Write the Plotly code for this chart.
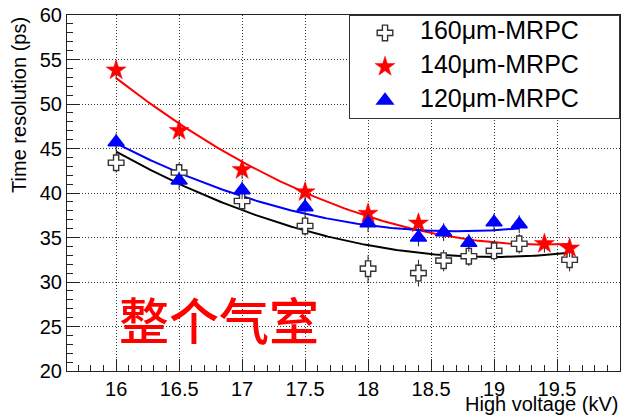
import numpy as np
import plotly.graph_objects as go

# High voltage (kV) and time resolution (ps) for the three MRPC gap sizes
hv_160 = [16.0, 16.5, 17.0, 17.5, 18.0, 18.4, 18.6, 18.8, 19.0, 19.2, 19.6]
res_160 = [43.4, 42.3, 39.1, 36.3, 31.5, 31.0, 32.4, 32.9, 33.5, 34.3, 32.5]
err_160 = [1.1, 1.1, 1.1, 1.1, 1.5, 1.5, 1.2, 1.1, 1.1, 1.1, 1.3]

hv_140 = [16.0, 16.5, 17.0, 17.5, 18.0, 18.4, 19.4, 19.6]
res_140 = [53.8, 47.0, 42.6, 40.1, 37.7, 36.6, 34.3, 33.8]
err_140 = [1.0, 1.0, 1.0, 1.0, 1.0, 1.0, 1.0, 1.0]

hv_120 = [16.0, 16.5, 17.0, 17.5, 18.0, 18.4, 18.6, 18.8, 19.0, 19.2]
res_120 = [45.7, 41.4, 40.3, 38.4, 36.6, 35.0, 35.6, 34.4, 36.7, 36.5]
err_120 = [1.0, 1.0, 1.0, 1.0, 1.0, 1.0, 1.0, 1.0, 1.0, 1.0]

series = [
    dict(name="160\u03bcm-MRPC", x=hv_160, y=res_160, e=err_160, color="black",
         marker=dict(symbol="cross", size=13, color="white",
                     line=dict(color="#333333", width=1.4))),
    dict(name="140\u03bcm-MRPC", x=hv_140, y=res_140, e=err_140, color="red",
         marker=dict(symbol="star", size=15, color="red",
                     line=dict(color="red", width=0.5))),
    dict(name="120\u03bcm-MRPC", x=hv_120, y=res_120, e=err_120, color="blue",
         marker=dict(symbol="triangle-up", size=14, color="blue",
                     line=dict(color="blue", width=1.5))),
]

FONT = "Liberation Sans, Arial, Helvetica, sans-serif"
PAD = "\u00a0" * 5


def legend_label(text):
    # large legend text while the row height follows the smaller legend font
    return f'<span style="font-size:25px">{text}{PAD}</span>'


fig = go.Figure()

# second-order polynomial fit drawn for each series
for s in series:
    xs = np.asarray(s["x"])
    ys = np.asarray(s["y"])
    coef = np.polyfit(xs, ys, 2, w=1.0 / np.asarray(s["e"]))
    xf = np.linspace(xs.min(), xs.max(), 200)
    fig.add_trace(go.Scatter(x=xf, y=np.polyval(coef, xf), mode="lines",
                             line=dict(color=s["color"], width=2),
                             showlegend=False, hoverinfo="skip"))

for i, s in enumerate(series):
    fig.add_trace(go.Scatter(
        x=s["x"], y=s["y"], mode="markers", name=legend_label(s["name"]),
        legendgroup=f"g{i}",
        marker=s["marker"],
        error_y=dict(type="data", array=s["e"], visible=True,
                     color="#222222", thickness=1, width=0),
    ))

axis_common = dict(
    showline=True, linecolor="#222222", linewidth=1, mirror=True,
    ticks="inside", tickcolor="#222222", ticklen=12, tickwidth=1,
    showgrid=True, gridcolor="#333333", gridwidth=1, griddash="1px,2px",
    zeroline=False, automargin=False,
    tickfont=dict(family=FONT, size=20, color="black"),
)

fig.update_layout(
    width=631, height=415,
    margin=dict(l=67, r=11, t=15, b=44),
    paper_bgcolor="white", plot_bgcolor="white",
    xaxis=dict(range=[15.61, 20], tick0=16, dtick=0.5,
               minor=dict(dtick=0.1, ticks="inside", ticklen=6,
                          tickcolor="#222222", showgrid=False),
               **axis_common),
    yaxis=dict(range=[20, 60], tick0=20, dtick=5,
               minor=dict(dtick=1, ticks="inside", ticklen=6,
                          tickcolor="#222222", showgrid=False),
               **axis_common),
    legend=dict(x=1, xanchor="right", y=1, yanchor="top",
                bgcolor="white", bordercolor="#333333", borderwidth=1,
                font=dict(family=FONT, size=16, color="black"),
                itemwidth=60, tracegroupgap=10),
    showlegend=True,
)

fig.add_annotation(text="High voltage (kV)", xref="paper", yref="paper",
                   x=1, y=-0.13, xanchor="right", yanchor="bottom",
                   showarrow=False, font=dict(family=FONT, size=20, color="black"))
fig.add_annotation(text="Time resolution (ps)", xref="paper", yref="paper",
                   x=-0.087, y=1, xanchor="center", yanchor="top", textangle=-90,
                   showarrow=False, font=dict(family=FONT, size=20, color="black"))
fig.add_annotation(text="整个气室", xref="paper", yref="paper",
                   x=0.275, y=0.149, xanchor="center", yanchor="middle",
                   showarrow=False,
                   font=dict(family="Noto Sans CJK SC", size=50, color="red",
                             weight=500))

fig.write_html("out.html")
